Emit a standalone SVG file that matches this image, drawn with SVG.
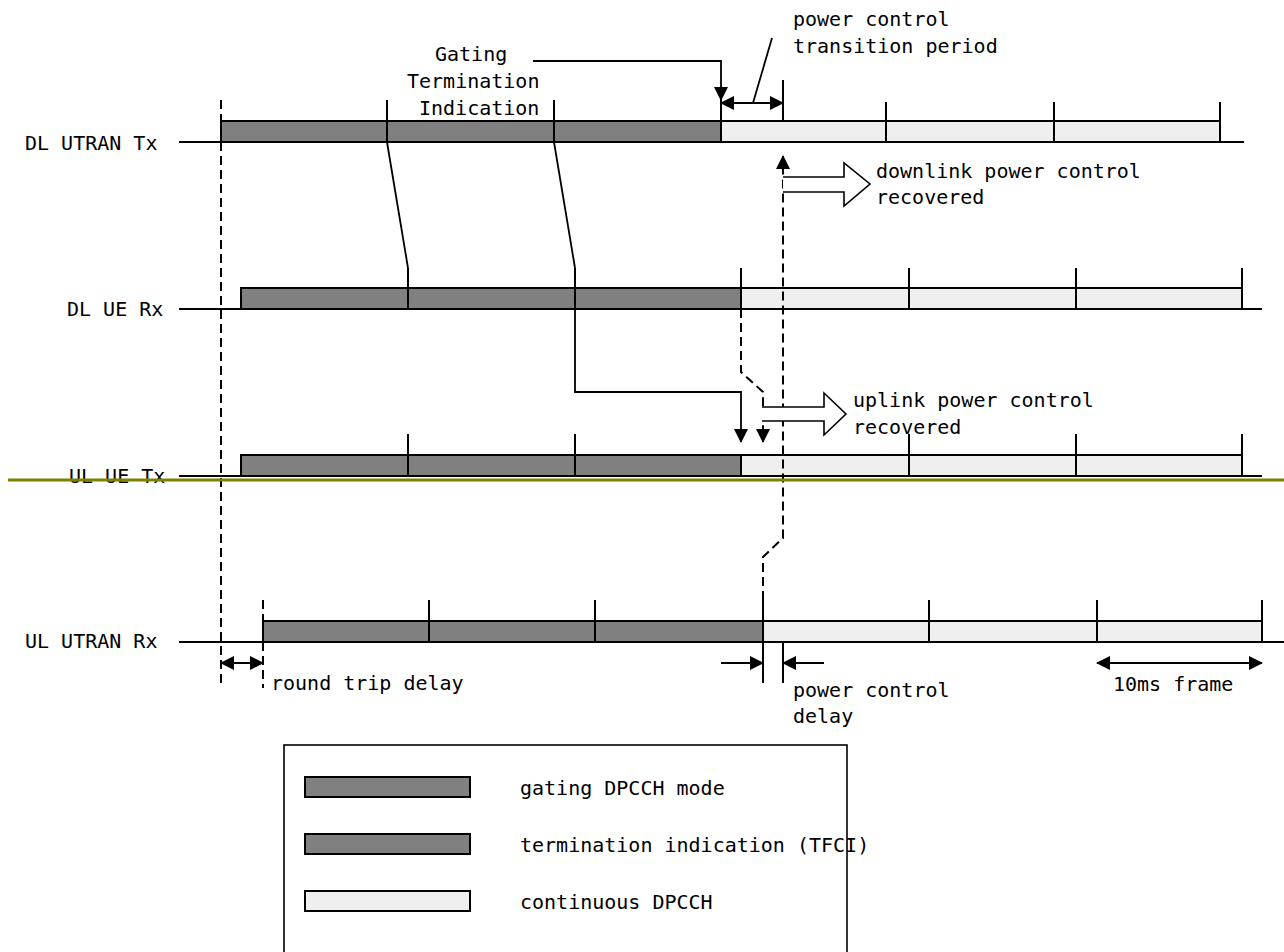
<svg xmlns="http://www.w3.org/2000/svg" width="1284" height="952" viewBox="0 0 1284 952">
<defs>
<style>
text{font-family:"DejaVu Sans Mono","Liberation Mono",monospace;font-size:20px;fill:#000}
.ln{stroke:#000;stroke-width:1.8;fill:none}
.ds{stroke:#000;stroke-width:2;fill:none;stroke-dasharray:9 5}
.dk{fill:#808080;stroke:#000;stroke-width:2}
.lt{fill:#efefef;stroke:#000;stroke-width:2}
.dv{stroke:#000;stroke-width:2}
.blk{fill:#fff;stroke:#000;stroke-width:1.6}
</style>
<marker id="arr" viewBox="0 0 14 14" refX="13" refY="7" markerWidth="14" markerHeight="14" markerUnits="userSpaceOnUse" orient="auto-start-reverse">
<path d="M0,0 L14,7 L0,14 Z" fill="#000"/>
</marker>
</defs>
<rect width="1284" height="952" fill="#fff"/>

<g id="row-dl-utran-tx">
<text x="25" y="150">DL UTRAN Tx</text>
<line class="ln" x1="179" y1="142" x2="1244" y2="142"/>
<rect class="dk" x="221" y="121" width="500" height="21"/>
<rect class="lt" x="721" y="121" width="499" height="21"/>
<line class="dv" x1="387" y1="100" x2="387" y2="142"/>
<line class="dv" x1="554" y1="100" x2="554" y2="142"/>
<line class="dv" x1="721" y1="100" x2="721" y2="142"/>
<line class="dv" x1="783" y1="80" x2="783" y2="121"/>
<line class="dv" x1="886" y1="102" x2="886" y2="142"/>
<line class="dv" x1="1054" y1="102" x2="1054" y2="142"/>
<line class="dv" x1="1220" y1="102" x2="1220" y2="142"/>
</g>

<g id="row-dl-ue-rx">
<text x="67" y="316">DL UE Rx</text>
<line class="ln" x1="179" y1="309" x2="1262" y2="309"/>
<rect class="dk" x="241" y="288" width="500" height="21"/>
<rect class="lt" x="741" y="288" width="501" height="21"/>
<line class="dv" x1="408" y1="268" x2="408" y2="309"/>
<line class="dv" x1="575" y1="268" x2="575" y2="309"/>
<line class="dv" x1="741" y1="268" x2="741" y2="309"/>
<line class="dv" x1="909" y1="268" x2="909" y2="309"/>
<line class="dv" x1="1076" y1="268" x2="1076" y2="309"/>
<line class="dv" x1="1242" y1="268" x2="1242" y2="309"/>
</g>

<g id="row-ul-ue-tx">
<text x="69" y="483">UL UE Tx</text>
<line class="ln" x1="179" y1="476" x2="1262" y2="476"/>
<rect class="dk" x="241" y="455" width="500" height="21"/>
<rect class="lt" x="741" y="455" width="501" height="21"/>
<line class="dv" x1="408" y1="434" x2="408" y2="476"/>
<line class="dv" x1="575" y1="434" x2="575" y2="476"/>
<line class="dv" x1="741" y1="455" x2="741" y2="476"/>
<line class="dv" x1="909" y1="434" x2="909" y2="476"/>
<line class="dv" x1="1076" y1="434" x2="1076" y2="476"/>
<line class="dv" x1="1242" y1="434" x2="1242" y2="476"/>
</g>

<g id="row-ul-utran-rx">
<text x="25" y="648">UL UTRAN Rx</text>
<line class="ln" x1="179" y1="642" x2="1284" y2="642"/>
<rect class="dk" x="263" y="621" width="500" height="21"/>
<rect class="lt" x="763" y="621" width="499" height="21"/>
<line class="dv" x1="429" y1="600" x2="429" y2="642"/>
<line class="dv" x1="595" y1="600" x2="595" y2="642"/>
<line class="dv" x1="763" y1="600" x2="763" y2="683"/>
<line class="dv" x1="929" y1="600" x2="929" y2="642"/>
<line class="dv" x1="1097" y1="600" x2="1097" y2="642"/>
<line class="dv" x1="1262" y1="600" x2="1262" y2="642"/>
<line class="dv" x1="783" y1="642" x2="783" y2="683"/>
</g>

<g id="connectors">
<line class="ds" x1="221" y1="100" x2="221" y2="684"/>
<line class="ds" x1="263" y1="600" x2="263" y2="688"/>
<line class="ln" x1="387" y1="142" x2="408" y2="268"/>
<line class="ln" x1="554" y1="142" x2="575" y2="268"/>
<polyline class="ln" points="575,309 575,392 741,392 741,442" marker-end="url(#arr)"/>
<polyline class="ds" points="741,309 741,372 763,392 763,442" marker-end="url(#arr)"/>
<polyline class="ds" points="763,600 763,557 783,538 783,156" marker-end="url(#arr)"/>
<polyline class="ln" points="533,61 721,61 721,100" marker-end="url(#arr)"/>
<line class="ln" x1="721" y1="103" x2="783" y2="103" marker-start="url(#arr)" marker-end="url(#arr)"/>
<line class="ln" x1="772" y1="38" x2="753" y2="103"/>
<line class="ln" x1="221" y1="663" x2="263" y2="663" marker-start="url(#arr)" marker-end="url(#arr)"/>
<line class="ln" x1="721" y1="663" x2="763" y2="663" marker-end="url(#arr)"/>
<line class="ln" x1="824" y1="663" x2="783" y2="663" marker-end="url(#arr)"/>
<line class="ln" x1="1097" y1="663" x2="1262" y2="663" marker-start="url(#arr)" marker-end="url(#arr)"/>
<path class="blk" d="M783,177 L844,177 L844,163 L870,184 L844,206 L844,192 L783,192"/>
<path class="blk" d="M762,407 L824,407 L824,393 L846,414 L824,435 L824,421 L762,421"/>
</g>

<g id="labels">
<text x="435" y="61">Gating</text>
<text x="407" y="88">Termination</text>
<text x="419" y="115">Indication</text>
<text x="793" y="26">power control</text>
<text x="793" y="53">transition period</text>
<text x="876" y="178">downlink power control</text>
<text x="876" y="204">recovered</text>
<text x="853" y="407">uplink power control</text>
<text x="853" y="434">recovered</text>
<text x="271" y="690">round trip delay</text>
<text x="793" y="697">power control</text>
<text x="793" y="723">delay</text>
<text x="1113" y="691">10ms frame</text>
</g>

<line id="olive-rule" x1="8" y1="480" x2="1284" y2="480" stroke="#808000" stroke-width="3"/>

<g id="legend">
<rect x="305" y="777" width="165" height="20" class="dk" stroke-width="1.6"/>
<rect x="305" y="834" width="165" height="20" class="dk" stroke-width="1.6"/>
<rect x="305" y="891" width="165" height="20" class="lt" stroke-width="1.6"/>
<text x="520" y="795">gating DPCCH mode</text>
<text x="520" y="852">termination indication (TFCI)</text>
<text x="520" y="909">continuous DPCCH</text>
<rect x="284" y="745" width="563" height="220" fill="none" stroke="#000" stroke-width="1.6"/>
</g>
</svg>
